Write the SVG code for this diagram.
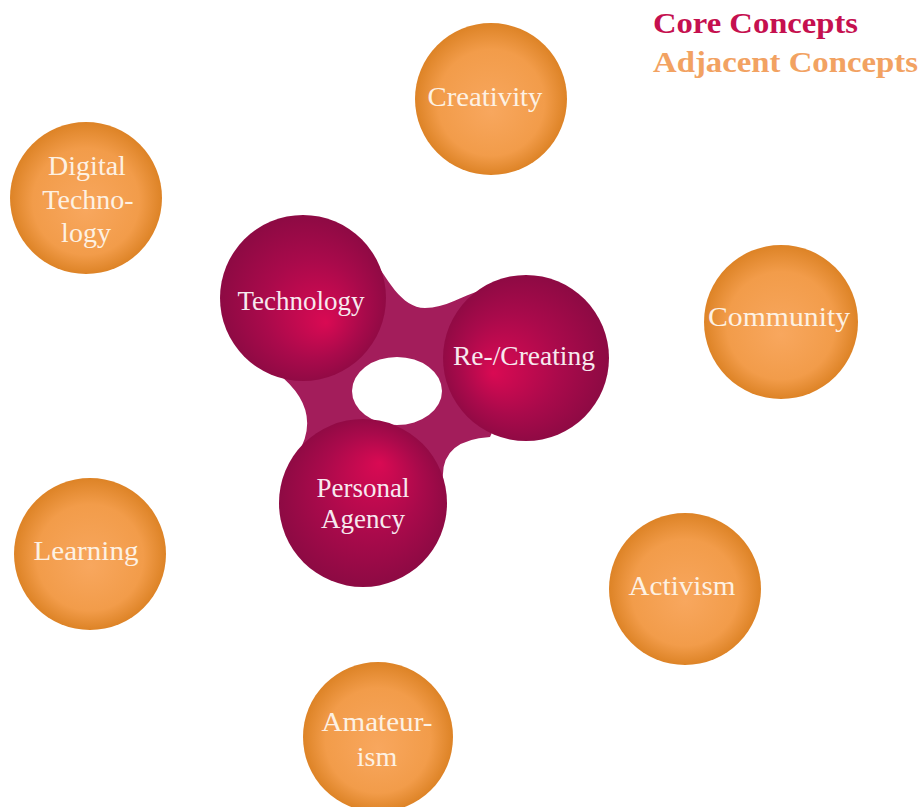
<svg xmlns="http://www.w3.org/2000/svg" width="923" height="807" viewBox="0 0 923 807">
<defs>
<radialGradient id="og" cx="0.5" cy="0.5" r="0.5" fx="0.5" fy="0.58">
<stop offset="0" stop-color="#f8a75e"/>
<stop offset="0.7" stop-color="#f29c4a"/>
<stop offset="1" stop-color="#dd8326"/>
</radialGradient>
<radialGradient id="pgT" cx="0.5" cy="0.5" r="0.55" fx="0.64" fy="0.65">
<stop offset="0" stop-color="#d90a53"/>
<stop offset="0.55" stop-color="#a90a4b"/>
<stop offset="1" stop-color="#880a42"/>
</radialGradient>
<radialGradient id="pgR" cx="0.5" cy="0.5" r="0.55" fx="0.30" fy="0.59">
<stop offset="0" stop-color="#d90a53"/>
<stop offset="0.55" stop-color="#a90a4b"/>
<stop offset="1" stop-color="#880a42"/>
</radialGradient>
<radialGradient id="pgP" cx="0.5" cy="0.5" r="0.55" fx="0.60" fy="0.26">
<stop offset="0" stop-color="#d90a53"/>
<stop offset="0.55" stop-color="#a90a4b"/>
<stop offset="1" stop-color="#880a42"/>
</radialGradient>
</defs>
<style>
.lbl{font-family:"Liberation Serif","Times New Roman",serif;font-size:27px;text-anchor:middle;}
.big{font-size:28px;}
.adj{fill:#fdf1e3;}
.core{fill:#f7e9ef;}
.leg{font-family:"Liberation Serif","Times New Roman",serif;font-size:30px;font-weight:bold;}
</style>
<rect width="923" height="807" fill="#ffffff"/>

<g id="legend">
<text class="leg" x="653" y="33" fill="#c5104f" textLength="205" lengthAdjust="spacingAndGlyphs">Core Concepts</text>
<text class="leg" x="653" y="72" fill="#f2a262" textLength="265" lengthAdjust="spacingAndGlyphs">Adjacent Concepts</text>
</g>

<g id="connectors">
<path d="M 303 298 L 368 250 C 385 275, 400 308, 425 308 C 445 308, 462 296, 482 290 L 526 358 L 490 437 Q 440 440 443 480 L 363 503 L 297 455 Q 325 410 276 372 Z" fill="#a31d5b"/>
<ellipse cx="397" cy="391" rx="45" ry="34" fill="#ffffff"/>
</g>

<g id="technology">
<circle cx="303" cy="298" r="83" fill="url(#pgT)"/>
<text class="lbl core" x="301" y="310">Technology</text>
</g>
<g id="re-creating">
<circle cx="526" cy="358" r="83" fill="url(#pgR)"/>
<text class="lbl core" x="524" y="365" textLength="142" lengthAdjust="spacingAndGlyphs">Re-/Creating</text>
</g>
<g id="personal-agency">
<circle cx="363" cy="503" r="84" fill="url(#pgP)"/>
<text class="lbl core" x="363" y="497">Personal</text>
<text class="lbl core" x="363" y="528">Agency</text>
</g>

<g id="creativity">
<circle cx="491" cy="99" r="76" fill="url(#og)"/>
<text class="lbl big adj" x="485" y="106" textLength="115" lengthAdjust="spacingAndGlyphs">Creativity</text>
</g>
<g id="digital-technology">
<circle cx="86" cy="198" r="76" fill="url(#og)"/>
<text class="lbl big adj" x="87" y="175">Digital</text>
<text class="lbl big adj" x="88" y="209">Techno-</text>
<text class="lbl big adj" x="86" y="242">logy</text>
</g>
<g id="community">
<circle cx="781" cy="322" r="77" fill="url(#og)"/>
<text class="lbl big adj" x="779" y="326" textLength="142" lengthAdjust="spacingAndGlyphs">Community</text>
</g>
<g id="learning">
<circle cx="90" cy="554" r="76" fill="url(#og)"/>
<text class="lbl big adj" x="86" y="560" textLength="105" lengthAdjust="spacingAndGlyphs">Learning</text>
</g>
<g id="activism">
<circle cx="685" cy="589" r="76" fill="url(#og)"/>
<text class="lbl big adj" x="682" y="595" textLength="107" lengthAdjust="spacingAndGlyphs">Activism</text>
</g>
<g id="amateurism">
<circle cx="378" cy="737" r="75" fill="url(#og)"/>
<text class="lbl big adj" x="377" y="731" textLength="111" lengthAdjust="spacingAndGlyphs">Amateur-</text>
<text class="lbl big adj" x="377" y="766">ism</text>
</g>
</svg>
